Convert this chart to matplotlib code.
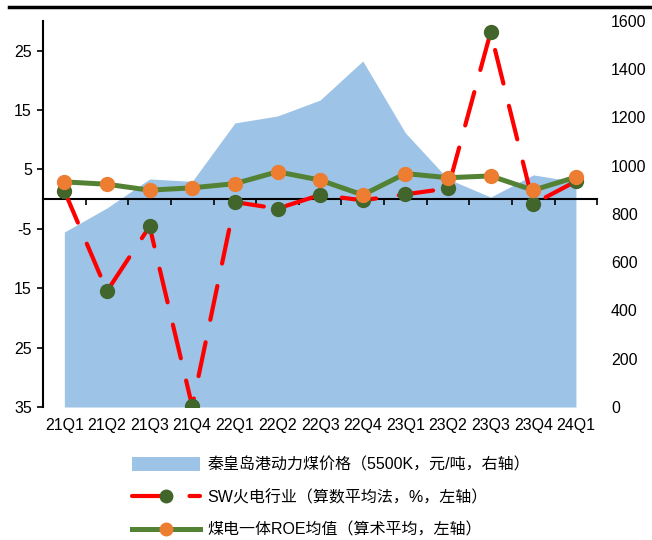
import numpy as np
from matplotlib import pyplot as plt
from matplotlib.lines import Line2D
from matplotlib.patches import Patch

plt.rcParams['font.family'] = ['Liberation Sans', 'Noto Sans CJK SC', 'DejaVu Sans']

quarters = ['21Q1', '21Q2', '21Q3', '21Q4', '22Q1', '22Q2', '22Q3',
            '22Q4', '23Q1', '23Q2', '23Q3', '23Q4', '24Q1']
coal_price = [725, 825, 945, 935, 1177, 1206, 1272, 1434, 1136, 945, 870, 962, 933]
sw_thermal = [1.4, -15.5, -4.6, -34.9, -0.5, -1.6, 0.7, -0.2, 0.8, 1.8, 28.1, -0.8, 3.0]
roe_coal_power = [2.9, 2.5, 1.5, 1.9, 2.6, 4.6, 3.2, 0.7, 4.3, 3.6, 3.9, 1.5, 3.7]

left_ticks = [-35, -25, -15, -5, 5, 15, 25]
left_labels = ['35', '25', '15', '-5', '5', '15', '25']
right_ticks = [0, 200, 400, 600, 800, 1000, 1200, 1400, 1600]
ymin, ymax = -35, 30

blue = '#9DC3E6'
red = '#FF0000'
dkgreen = '#41652B'
green = '#548235'
orange = '#ED7D31'
red_dash = (8.3, 5.5)

fig = plt.figure(figsize=(6.52, 5.40), dpi=100)
pos = [0.066, 0.2463, 0.85, 0.715]
ax = fig.add_axes(pos)
ax2 = ax.twinx()
x = np.arange(len(quarters))

# coal price area on the right axis, drawn underneath
ax2.fill_between(x, 0, coal_price, color=blue, lw=0, zorder=1)
ax2.set_ylim(0, 1600)
ax2.set_yticks(right_ticks)
ax2.tick_params(axis='y', length=0, pad=10, labelsize=11.5)
ax2.set_zorder(0)
ax.set_zorder(2)
ax.patch.set_visible(False)

ax.plot(x, sw_thermal, color=red, lw=3, dashes=red_dash, dash_capstyle='round',
        marker='o', ms=10, mfc=dkgreen, mec=dkgreen, zorder=3)
ax.plot(x, roe_coal_power, color=green, lw=3.6, marker='o', ms=10,
        mfc=orange, mec=orange, zorder=4)

ax.set_xlim(-0.5, len(quarters) - 0.5)
ax.set_ylim(ymin, ymax)
ax.set_yticks(left_ticks)
ax.set_yticklabels(left_labels)
ax.tick_params(axis='y', length=4, width=1.2, pad=4, labelsize=11.5)
ax.set_xticks(x)
ax.set_xticklabels(quarters)
ax.tick_params(axis='x', length=0, pad=8, labelsize=11.5)

for a in (ax, ax2):
    for s in ('top', 'right', 'bottom'):
        a.spines[s].set_visible(False)
ax2.spines['left'].set_visible(False)
ax.spines['left'].set_linewidth(1.5)

# category axis line sitting on zero, ticks between quarters (under the lines)
zero_frac = (0 - ymin) / (ymax - ymin)
axz = fig.add_axes([pos[0], pos[1] + pos[3] * zero_frac, pos[2], 0.001])
axz.set_zorder(1)
axz.patch.set_visible(False)
axz.set_xlim(ax.get_xlim())
axz.set_xticks(np.arange(-0.5, len(quarters)))
axz.set_yticks([])
axz.tick_params(axis='x', direction='out', length=4, width=1.2, labelbottom=False)
for s in ('top', 'left', 'right'):
    axz.spines[s].set_visible(False)
axz.spines['bottom'].set_linewidth(1.5)

fig.add_artist(Line2D([0.014, 1.0], [0.987, 0.987], color='black', lw=2.5))

handles = [
    Patch(facecolor=blue, edgecolor='none'),
    Line2D([], [], color=red, lw=3, dashes=red_dash, dash_capstyle='round',
           marker='o', ms=9, mfc=dkgreen, mec=dkgreen),
    Line2D([], [], color=green, lw=3.6, marker='o', ms=9, mfc=orange, mec=orange),
]
labels = ['秦皇岛港动力煤价格（5500K，元/吨，右轴）',
          'SW火电行业（算数平均法，%，左轴）',
          '煤电一体ROE均值（算术平均，左轴）']
fig.legend(handles, labels, loc='upper left', bbox_to_anchor=(0.185, 0.174),
           frameon=False, fontsize=11.5, handlelength=4.3, handleheight=0.9,
           labelspacing=1.08, handletextpad=0.45, borderpad=0.2)

fig.savefig('out.png', dpi=100)
